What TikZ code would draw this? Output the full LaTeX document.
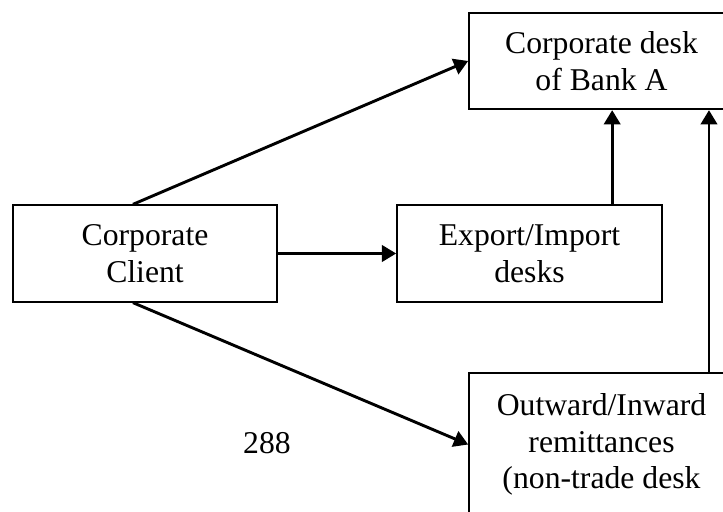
\documentclass[tikz,border=0pt]{standalone}
\usepackage{fontspec}
\setmainfont{Liberation Serif}
\usetikzlibrary{arrows.meta}

\tikzset{
	deskbox/.style={draw, line width=0.8pt, align=center,
		minimum width=3.52cm, minimum height=1.28cm,
		font=\fontsize{12}{13.8}\selectfont},
	flow/.style={line width=1.1pt, -{Triangle[length=5.4pt,width=6.2pt]}}
}

\begin{document}
\begin{tikzpicture}[x=0.0133cm, y=-0.0133cm]
		\useasboundingbox (0,0) rectangle (723,512);
		\clip (0,0) rectangle (723,512);
		\node [deskbox] (client) at (145, 253.5) {Corporate\\Client};
		\node [deskbox] (trade) at (529.5, 253.5) {Export/Import\\desks};
		\node [deskbox] (corpdesk) at (601.5, 61) {Corporate desk\\of Bank A};
		\node [deskbox, minimum height=1.9cm] (remit) at (601.5, 444.5)
			{Outward/Inward\\remittances\\(non-trade desk};
		\node [font=\fontsize{12}{13.8}\selectfont] (page) at (267, 443) {288};
		\draw [flow] ([xshift=-0.16cm]client.north) -- (corpdesk.west);
		\draw [flow] (client.east) -- (trade.west);
		\draw [flow] ([xshift=-0.16cm]client.south) -- (remit.west);
		\draw [flow] ([xshift=1.1cm]trade.north) -- ([xshift=1.1cm]trade.north |- corpdesk.south);
		\draw [flow] ([xshift=1.43cm]remit.north) -- ([xshift=1.43cm]remit.north |- corpdesk.south);
	\end{tikzpicture}
\end{document}
